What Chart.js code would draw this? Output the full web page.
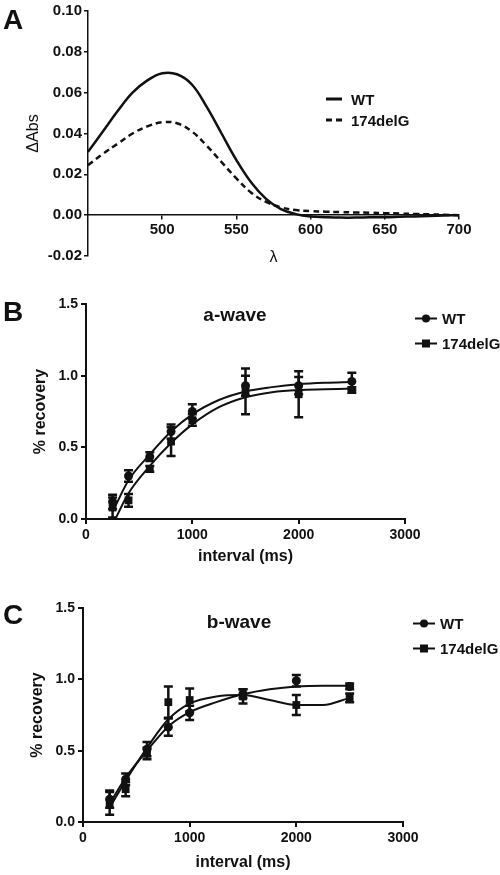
<!DOCTYPE html>
<html>
<head>
<meta charset="utf-8">
<script src="https://cdn.jsdelivr.net/npm/chart.js@4.4.1/dist/chart.umd.min.js"></script>
<style>
  html, body { margin: 0; padding: 0; background: #fff; }
  body { width: 500px; height: 875px; position: relative; overflow: hidden; font-family: "Liberation Sans", Arial, sans-serif; color: #111; }
  canvas { position: absolute; left: 0; }
  .panel { position: absolute; left: 3px; font-size: 28px; font-weight: bold; line-height: 28px; }
  .title { position: absolute; font-size: 19px; font-weight: bold; line-height: 1; transform: translate(-50%, -50%); white-space: nowrap; }
  .leg { position: absolute; display: flex; align-items: center; font-size: 15px; font-weight: bold; line-height: 1; transform: translateY(-50%); white-space: nowrap; }
  .key { position: relative; width: 22px; height: 12px; margin-right: 5px; }
  .ln { position: absolute; left: 0; right: 0; top: 5px; height: 2px; background: #111; }
  .circ { position: absolute; left: 7px; top: 2px; width: 8px; height: 8px; border-radius: 50%; background: #111; }
  .sq { position: absolute; left: 7px; top: 2px; width: 8px; height: 8px; background: #111; }
  .keyA { position: relative; width: 16px; height: 4px; margin-right: 9px; }
  .solid { background: #111; height: 3px; }
  .dash { background: repeating-linear-gradient(to right, #111 0 6px, transparent 6px 10px); height: 3px; }
</style>
</head>
<body>
<canvas id="chartA" width="500" height="290" style="top:0"></canvas>
<canvas id="chartB" width="500" height="290" style="top:290px"></canvas>
<canvas id="chartC" width="500" height="295" style="top:580px"></canvas>

<div class="panel" style="top:6px">A</div>
<div class="panel" style="top:298px">B</div>
<div class="panel" style="top:601px">C</div>

<div class="leg" style="left:326px;top:99px"><span class="keyA solid"></span>WT</div>
<div class="leg" style="left:326px;top:120px"><span class="keyA dash"></span>174delG</div>

<div class="title" style="left:235px;top:314px">a-wave</div>
<div class="leg" style="left:415px;top:318px"><span class="key"><i class="ln"></i><b class="circ"></b></span>WT</div>
<div class="leg" style="left:415px;top:343px"><span class="key"><i class="ln"></i><b class="sq"></b></span>174delG</div>

<div class="title" style="left:239px;top:621px">b-wave</div>
<div class="leg" style="left:413px;top:623px"><span class="key"><i class="ln"></i><b class="circ"></b></span>WT</div>
<div class="leg" style="left:413px;top:648px"><span class="key"><i class="ln"></i><b class="sq"></b></span>174delG</div>

<script>
// panel A: difference spectra
const wavelength = [450, 460, 470, 480, 490, 500, 510, 520, 530, 540, 550, 560, 570,
  580, 590, 600, 610, 620, 630, 640, 650, 660, 670, 680, 690, 700];
const absWT = [0.031, 0.041, 0.051, 0.060, 0.066, 0.0695, 0.069, 0.064, 0.053, 0.040, 0.027, 0.016, 0.008,
  0.003, 0.0005, -0.0007, -0.001, -0.0012, -0.0012, -0.001, -0.001, -0.0008, -0.0006, -0.0004, -0.0002, 0];
const absMut = [0.0245, 0.030, 0.035, 0.040, 0.0435, 0.0455, 0.045, 0.041, 0.034, 0.026, 0.018, 0.011, 0.0065,
  0.0038, 0.0025, 0.002, 0.0017, 0.0015, 0.0013, 0.0012, 0.001, 0.0008, 0.0006, 0.0004, 0.0002, 0];
const ticksA = [500, 550, 600, 650, 700];

// panels B and C: recovery vs interval
const intervals = [250, 400, 600, 800, 1000, 1500, 2000, 2500];
const aWaveWT = [0.12, 0.30, 0.435, 0.61, 0.75, 0.93, 0.93, 0.96];
const aWaveWTErr = [0.05, 0.04, 0.03, 0.05, 0.05, 0.07, 0.06, 0.06];
const aWaveMut = [0.08, 0.13, 0.35, 0.54, 0.69, 0.89, 0.87, 0.90];
const aWaveMutErr = [0.07, 0.045, 0.02, 0.10, 0.04, 0.16, 0.16, 0.02];

const bWaveWT = [0.16, 0.30, 0.51, 0.665, 0.765, 0.90, 0.99, 0.95];
const bWaveWTErr = [0.06, 0.04, 0.05, 0.06, 0.05, 0.03, 0.04, 0.02];
const bWaveMut = [0.13, 0.23, 0.48, 0.84, 0.855, 0.88, 0.82, 0.87];
const bWaveMutErr = [0.08, 0.05, 0.04, 0.11, 0.08, 0.05, 0.07, 0.03];

// fitted curves
const fitX = [250, 400, 600, 800, 1000, 1250, 1500, 1750, 2000, 2250, 2500];
const aFitWT = [0.05, 0.27, 0.45, 0.61, 0.73, 0.83, 0.89, 0.92, 0.94, 0.95, 0.955];
const aFitMut = [-0.04, 0.18, 0.37, 0.53, 0.66, 0.78, 0.85, 0.885, 0.90, 0.905, 0.91];
const bFitWT = [0.13, 0.31, 0.50, 0.67, 0.77, 0.84, 0.895, 0.93, 0.95, 0.955, 0.955];
const bFitMut = [0.10, 0.29, 0.52, 0.72, 0.83, 0.88, 0.89, 0.855, 0.82, 0.82, 0.87];

const INK = '#111';
Chart.defaults.font.family = '"Liberation Sans", Arial, sans-serif';
Chart.defaults.color = INK;

function pairs(xs, ys) {
  return xs.map((x, i) => ({ x, y: ys[i] }));
}

const errorBars = {
  id: 'errorBars',
  afterDatasetsDraw(chart) {
    const { ctx } = chart;
    const xs = chart.scales.x;
    const ys = chart.scales.y;
    chart.data.datasets.forEach((ds) => {
      if (!ds.errors) return;
      ctx.save();
      ctx.strokeStyle = INK;
      ctx.lineWidth = 2.5;
      ds.data.forEach((pt, j) => {
        const px = xs.getPixelForValue(pt.x);
        const top = ys.getPixelForValue(pt.y + ds.errors[j]);
        const bot = ys.getPixelForValue(pt.y - ds.errors[j]);
        ctx.beginPath();
        ctx.moveTo(px, top); ctx.lineTo(px, bot);
        ctx.moveTo(px - 4.5, top); ctx.lineTo(px + 4.5, top);
        ctx.moveTo(px - 4.5, bot); ctx.lineTo(px + 4.5, bot);
        ctx.stroke();
      });
      ctx.restore();
    });
  },
};

const axisGrid = { drawOnChartArea: false, drawTicks: true, tickLength: 5, color: INK, lineWidth: 2 };
const axisBorder = { color: INK, width: 2 };
const tickFont = { size: 14, weight: 'bold' };
const tickFontA = { size: 15, weight: 'bold' };

function buildSpectrumChart() {
  return new Chart(document.getElementById('chartA'), {
    type: 'scatter',
    data: {
      datasets: [
        { label: 'WT', data: pairs(wavelength, absWT), showLine: true, borderColor: INK, borderWidth: 2.5, pointRadius: 0, tension: 0.4 },
        { label: '174delG', data: pairs(wavelength, absMut), showLine: true, borderColor: INK, borderWidth: 2.5, borderDash: [6, 4], pointRadius: 0, tension: 0.4 },
      ],
    },
    options: {
      responsive: false,
      animation: false,
      layout: { padding: { left: 24, right: 41, top: 9, bottom: 34 } },
      plugins: { legend: { display: false }, tooltip: { enabled: false } },
      scales: {
        x: {
          type: 'linear', min: 450, max: 700,
          position: { y: 0 },
          afterBuildTicks: (s) => { s.ticks = ticksA.map((v) => ({ value: v })); },
          afterFit: (s) => { s.height = 52; },
          ticks: { font: tickFontA, padding: 2, maxRotation: 0, callback: (v) => String(v) },
          grid: { ...axisGrid, tickLength: 4, lineWidth: 1.5 },
          border: { color: INK, width: 1.5 },
          title: { display: true, text: 'λ', font: { size: 16 }, padding: 0 },
        },
        y: {
          min: -0.02, max: 0.10,
          afterFit: (s) => { s.width = 64; },
          ticks: { stepSize: 0.02, font: tickFontA, padding: 2, callback: (v) => v.toFixed(2) },
          grid: { ...axisGrid, tickLength: 4, lineWidth: 1.5 },
          border: { color: INK, width: 1.5 },
          title: { display: true, text: 'ΔAbs', font: { size: 16 }, padding: 0 },
        },
      },
    },
  });
}

function buildRecoveryChart(id, wt, wtErr, mut, mutErr, wtFit, mutFit, pad, xHeight) {
  return new Chart(document.getElementById(id), {
    type: 'scatter',
    data: {
      datasets: [
        { label: 'WT fit', data: pairs(fitX, wtFit), showLine: true, borderColor: INK, borderWidth: 2, pointRadius: 0, cubicInterpolationMode: 'monotone' },
        { label: '174delG fit', data: pairs(fitX, mutFit), showLine: true, borderColor: INK, borderWidth: 2, pointRadius: 0, cubicInterpolationMode: 'monotone' },
        { label: 'WT', data: pairs(intervals, wt), errors: wtErr, pointStyle: 'circle', pointRadius: 4.5, backgroundColor: INK, borderColor: INK, borderWidth: 0 },
        { label: '174delG', data: pairs(intervals, mut), errors: mutErr, pointStyle: 'rect', pointRadius: 5.5, backgroundColor: INK, borderColor: INK, borderWidth: 0 },
      ],
    },
    options: {
      responsive: false,
      animation: false,
      layout: { padding: pad },
      plugins: { legend: { display: false }, tooltip: { enabled: false } },
      scales: {
        x: {
          type: 'linear', min: 0, max: 3000,
          afterFit: (s) => { s.height = xHeight; },
          ticks: { stepSize: 1000, font: tickFont, padding: 3, maxRotation: 0, callback: (v) => String(v) },
          grid: axisGrid,
          border: axisBorder,
          title: { display: true, text: 'interval (ms)', font: { size: 16, weight: 'bold' }, padding: 0 },
        },
        y: {
          min: 0, max: 1.5,
          afterFit: (s) => { s.width = 55; },
          ticks: { stepSize: 0.5, font: tickFont, padding: 3, callback: (v) => v.toFixed(1) },
          grid: axisGrid,
          border: axisBorder,
          title: { display: true, text: '% recovery', font: { size: 16, weight: 'bold' }, padding: 0 },
        },
      },
    },
    plugins: [errorBars],
  });
}

buildSpectrumChart();
buildRecoveryChart('chartB', aWaveWT, aWaveWTErr, aWaveMut, aWaveMutErr, aFitWT, aFitMut,
  { left: 31, right: 95, top: 14, bottom: 14 }, 47);
buildRecoveryChart('chartC', bWaveWT, bWaveWTErr, bWaveMut, bWaveMutErr, bFitWT, bFitMut,
  { left: 28, right: 97, top: 28, bottom: 3 }, 50);
</script>
</body>
</html>
